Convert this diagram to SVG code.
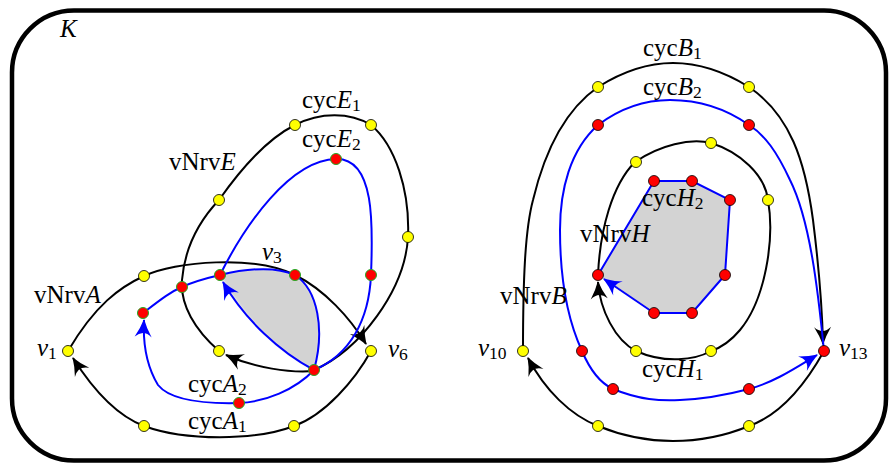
<svg xmlns="http://www.w3.org/2000/svg" width="890" height="464" viewBox="0 0 890 464">
<defs>
<style>
.frame{fill:none;stroke:#000;stroke-width:4.5}
.bk{fill:none;stroke:#000;stroke-width:2}
.bl{fill:none;stroke:#0000ff;stroke-width:2}
.bka{fill:none;stroke:#000;stroke-width:2;marker-end:url(#ak)}
.bla{fill:none;stroke:#0000ff;stroke-width:2;marker-end:url(#ab)}
.shade{fill:#d3d3d3;stroke:none}
.y{fill:#ffff00;stroke:#000;stroke-width:0.8}
.r{fill:#ff0000;stroke:#000;stroke-width:0.8}
.rg{fill:#ff0000;stroke:#22aa22;stroke-width:1}
text{font-family:"Liberation Serif","Times New Roman",serif;font-size:25px;fill:#000}
.it{font-style:italic}
.sub{font-size:17.5px}
</style>
<marker id="ak" viewBox="-19 -10 21 20" refX="0" refY="0" markerWidth="21" markerHeight="20" markerUnits="userSpaceOnUse" orient="auto">
<path d="M1,0 Q-8,-3 -17,-8.5 Q-9,0 -17,8.5 Q-8,3 1,0 Z" fill="#000"/>
</marker>
<marker id="ab" viewBox="-19 -10 21 20" refX="0" refY="0" markerWidth="21" markerHeight="20" markerUnits="userSpaceOnUse" orient="auto">
<path d="M1,0 Q-8,-3 -17,-8.5 Q-9,0 -17,8.5 Q-8,3 1,0 Z" fill="#0000ff"/>
</marker>
<filter id="soft" x="-10%" y="-10%" width="120%" height="120%">
<feGaussianBlur stdDeviation="1.2"/>
</filter>
</defs>
<rect class="frame" x="12" y="10.5" width="874" height="450" rx="62" ry="62" fill="#fff"/>
<text class="it" x="60" y="37">K</text>

<g id="regions">
<path class="shade" filter="url(#soft)" d="M220,275 C245,269 275,266 295,275 C318,290 325,330 314,370 C280,352 245,320 220,275 Z"/>
<path class="shade" d="M598,275 L654,181 L692,181 L730,200 L725,275 L692,313 L654,313 Z"/>
</g>

<g id="connectors">
<!-- cycA1 -->
<path class="bka" d="M68,351 C95,305 120,287 144,276 C175,261 255,255 295,275 C325,290 350,318 366,344"/>
<path class="bka" d="M371,351 C355,380 325,415 294,426 C255,441 185,441 144,426 C115,415 92,388 73,358"/>
<!-- cycE1 -->
<path class="bk" d="M219,351 C195,330 180,305 182,280 C185,245 200,220 219,200 C240,170 265,140 295,125 C320,112 350,112 371,125 C395,145 410,190 408,237 C405,290 360,350 314,370"/>
<path class="bka" d="M314,371 C290,373 255,368 226,355"/>
<!-- cycA2 -->
<path class="bl" d="M143,313 C160,300 170,292 182,287 C195,281 207,278 220,275 C245,269 275,266 295,275 C318,290 325,330 314,370"/>
<path class="bla" d="M314,370 C295,390 265,402 239,403 C200,404 170,400 158,385 C146,365 143,340 144,320"/>
<!-- cycE2 -->
<path class="bl" d="M220,275 C245,225 290,160 336,159 C375,158 373,225 371,275 C369,320 350,355 314,370"/>
<path class="bla" d="M314,370 C280,352 245,320 223,282"/>
<!-- cycB1 -->
<path class="bka" d="M523,351 C523,280 525,230 533,200 C545,150 565,110 598,87 C625,70 650,63 673,63 C700,63 725,72 749,87 C790,115 805,160 813,220 C818,260 822,300 823,344"/>
<path class="bka" d="M824,351 C805,385 780,415 749,426 C720,438 695,441 673,441 C650,441 625,437 598,426 C570,415 545,390 528,358"/>
<!-- cycB2 -->
<path class="bl" d="M824,351 C818,290 810,220 790,180 C777,152 765,135 749,125 C725,108 700,100 670,100 C640,100 618,110 598,125 C570,150 560,190 560,230 C560,290 570,325 582,351 C590,370 600,383 613,389"/>
<path class="bla" d="M613,389 C640,400 660,401 680,400 C705,399 730,394 749,389 C775,382 797,367 817,355"/>
<!-- cycH1 -->
<path class="bka" d="M598,275 C600,230 612,185 635,162 C660,145 690,138 711,143 C740,152 765,175 768,200 C775,240 765,300 740,330 C730,342 720,348 711,351 C695,360 665,364 636,351 C615,340 600,310 598,282"/>
<!-- cycH2 -->
<path class="bl" d="M598,275 L654,181 L692,181 L730,200 L725,275 L692,313 L654,313"/>
<path class="bla" d="M654,313 L604,279"/>
</g>

<g id="n-v1"><circle class="y" cx="68" cy="351" r="5.5"/></g>
<g id="n-a1t1"><circle class="y" cx="144" cy="276" r="5.5"/></g>
<g id="n-a1b1"><circle class="y" cx="144" cy="426" r="5.5"/></g>
<g id="n-a1b2"><circle class="y" cx="294" cy="426" r="5.5"/></g>
<g id="n-v6"><circle class="y" cx="371" cy="351" r="5.5"/></g>
<g id="n-e1a"><circle class="y" cx="219" cy="200" r="5.5"/></g>
<g id="n-e1b"><circle class="y" cx="295" cy="125" r="5.5"/></g>
<g id="n-e1c"><circle class="y" cx="371" cy="125" r="5.5"/></g>
<g id="n-e1d"><circle class="y" cx="408" cy="237" r="5.5"/></g>
<g id="n-e1e"><circle class="y" cx="219" cy="351" r="5.5"/></g>
<g id="n-a2a"><circle class="rg" cx="143" cy="313" r="5.5"/></g>
<g id="n-a2b"><circle class="rg" cx="182" cy="287" r="5.5"/></g>
<g id="n-a2c"><circle class="rg" cx="220" cy="275" r="5.5"/></g>
<g id="n-v3"><circle class="rg" cx="295" cy="275" r="5.5"/></g>
<g id="n-e2a"><circle class="rg" cx="336" cy="159" r="5.5"/></g>
<g id="n-e2b"><circle class="rg" cx="371" cy="275" r="5.5"/></g>
<g id="n-x"><circle class="rg" cx="314" cy="370" r="5.5"/></g>
<g id="n-a2d"><circle class="rg" cx="239" cy="403" r="5.5"/></g>

<g id="n-v10"><circle class="y" cx="523" cy="351" r="5.5"/></g>
<g id="n-b1a"><circle class="y" cx="598" cy="87" r="5.5"/></g>
<g id="n-b1b"><circle class="y" cx="749" cy="87" r="5.5"/></g>
<g id="n-b1c"><circle class="y" cx="598" cy="426" r="5.5"/></g>
<g id="n-b1d"><circle class="y" cx="749" cy="426" r="5.5"/></g>
<g id="n-b2a"><circle class="r" cx="598" cy="125" r="5.5"/></g>
<g id="n-b2b"><circle class="r" cx="749" cy="125" r="5.5"/></g>
<g id="n-b2c"><circle class="r" cx="582" cy="351" r="5.5"/></g>
<g id="n-b2d"><circle class="r" cx="613" cy="389" r="5.5"/></g>
<g id="n-b2e"><circle class="r" cx="749" cy="389" r="5.5"/></g>
<g id="n-v13"><circle class="r" cx="824" cy="351" r="5.5"/></g>
<g id="n-h1a"><circle class="y" cx="636" cy="162" r="5.5"/></g>
<g id="n-h1b"><circle class="y" cx="711" cy="143" r="5.5"/></g>
<g id="n-h1c"><circle class="y" cx="768" cy="200" r="5.5"/></g>
<g id="n-h1d"><circle class="y" cx="636" cy="351" r="5.5"/></g>
<g id="n-h1e"><circle class="y" cx="711" cy="351" r="5.5"/></g>
<g id="n-h2a"><circle class="r" cx="654" cy="181" r="5.5"/></g>
<g id="n-h2b"><circle class="r" cx="692" cy="181" r="5.5"/></g>
<g id="n-h2c"><circle class="r" cx="730" cy="200" r="5.5"/></g>
<g id="n-h2d"><circle class="r" cx="725" cy="275" r="5.5"/></g>
<g id="n-h2e"><circle class="r" cx="692" cy="313" r="5.5"/></g>
<g id="n-h2f"><circle class="r" cx="654" cy="313" r="5.5"/></g>
<g id="n-h"><circle class="r" cx="598" cy="275" r="5.5"/></g>

<g id="labels">
<text x="302" y="108">cyc<tspan class="it">E</tspan><tspan class="sub" dy="3">1</tspan></text>
<text x="302" y="147">cyc<tspan class="it">E</tspan><tspan class="sub" dy="3">2</tspan></text>
<text x="169" y="170">vNrv<tspan class="it">E</tspan></text>
<text x="262" y="260"><tspan class="it">v</tspan><tspan class="sub" dy="3">3</tspan></text>
<text x="34" y="303">vNrv<tspan class="it">A</tspan></text>
<text x="37" y="356"><tspan class="it">v</tspan><tspan class="sub" dy="3">1</tspan></text>
<text x="388" y="357"><tspan class="it">v</tspan><tspan class="sub" dy="3">6</tspan></text>
<text x="188" y="392">cyc<tspan class="it">A</tspan><tspan class="sub" dy="3">2</tspan></text>
<text x="188" y="429">cyc<tspan class="it">A</tspan><tspan class="sub" dy="3">1</tspan></text>
<text x="643" y="56">cyc<tspan class="it">B</tspan><tspan class="sub" dy="3">1</tspan></text>
<text x="643" y="95">cyc<tspan class="it">B</tspan><tspan class="sub" dy="3">2</tspan></text>
<text x="642" y="206">cyc<tspan class="it">H</tspan><tspan class="sub" dy="3">2</tspan></text>
<text x="580" y="242">vNrv<tspan class="it">H</tspan></text>
<text x="500" y="304">vNrv<tspan class="it">B</tspan></text>
<text x="478" y="356"><tspan class="it">v</tspan><tspan class="sub" dy="3">10</tspan></text>
<text x="839" y="356"><tspan class="it">v</tspan><tspan class="sub" dy="3">13</tspan></text>
<text x="642" y="377">cyc<tspan class="it">H</tspan><tspan class="sub" dy="3">1</tspan></text>
</g>
</svg>
